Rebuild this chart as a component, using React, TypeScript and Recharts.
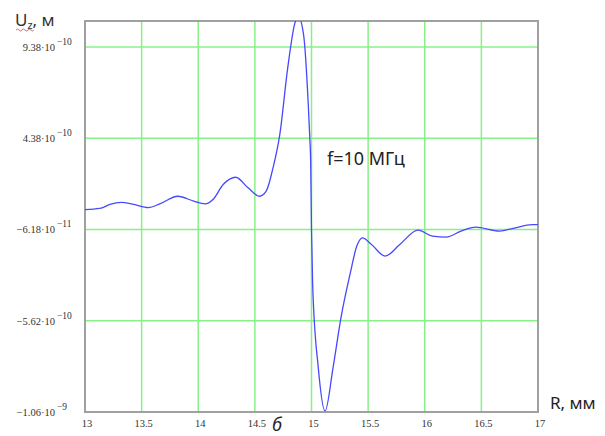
import React from "react";
import { LineChart, Line, XAxis, YAxis, CartesianGrid, ReferenceArea } from "recharts";

// R, mm
const rValues = [
  13.0, 13.13, 13.22, 13.32, 13.43, 13.56, 13.66, 13.82, 13.96, 14.06, 14.13, 14.22, 14.33, 14.44,
  14.54, 14.6, 14.66, 14.72, 14.79, 14.85, 14.88, 14.93, 14.97, 14.985, 14.993, 15.0, 15.01, 15.06,
  15.12, 15.19, 15.26, 15.34, 15.4, 15.45, 15.53, 15.65, 15.78, 15.94, 16.07, 16.19, 16.32, 16.45,
  16.66, 16.78, 16.95, 17.0,
];
// Uz, in units of 1e-10 m
const uzValues = [
  0.47, 0.53, 0.75, 0.86, 0.75, 0.58, 0.78, 1.2, 0.93, 0.78, 1.02, 1.84, 2.24, 1.66,
  1.2, 1.48, 2.75, 4.58, 8.23, 10.6, 11.1, 10.05, 6.4, 4.4, 3.0, -0.62, -3.63, -8.2,
  -10.56, -8.2, -5.46, -3.08, -1.53, -1.08, -1.44, -2.08, -1.44, -0.66, -0.99, -1.04, -0.71, -0.49,
  -0.71, -0.56, -0.35, -0.35,
];

const xTicks = [13, 13.5, 14, 14.5, 15, 15.5, 16, 16.5, 17];
const xTickLabels = ["13", "13.5", "14", "14.5", "15", "15.5", "16", "16.5", "17"];
const yTicks = [-10.62, -5.62, -0.618, 4.38, 9.38];
const yTickMantissa = ["\u22121.06\u00b710", "\u22125.62\u00b710", "\u22126.18\u00b710", "4.38\u00b710", "9.38\u00b710"];
const yTickExponent = ["\u22129", "\u221210", "\u221211", "\u221210", "\u221210"];

const data = rValues.map((r, i) => ({ r, uz: uzValues[i] }));

const serif = "'Liberation Serif', 'Times New Roman', serif";
const sans = "'Noto Sans', 'Open Sans', sans-serif";

const YTick = (props: any) => {
  const { y, payload } = props;
  const idx = yTicks.indexOf(payload.value);
  if (idx < 0) return null;
  return (
    <g>
      <text x={55} y={y + 4} textAnchor="end" fontFamily={serif} fontSize={10.5} fill="#333">
        {yTickMantissa[idx]}
      </text>
      <text x={57} y={y - 2} textAnchor="start" fontFamily={serif} fontSize={9.5} fill="#333">
        {yTickExponent[idx]}
      </text>
    </g>
  );
};

const XTick = (props: any) => {
  const { x, payload } = props;
  const idx = xTicks.indexOf(payload.value);
  if (idx < 0) return null;
  return (
    <text x={x + 2} y={427} textAnchor="middle" fontFamily={serif} fontSize={10.5} fill="#333">
      {xTickLabels[idx]}
    </text>
  );
};

export default function App() {
  return (
    <div style={{ position: "absolute", left: 0, top: 0, width: 605, height: 436, background: "#fff" }}>
      <LineChart
        width={605}
        height={436}
        data={data}
        margin={{ top: 21, right: 67, left: 0, bottom: 0 }}
      >
        <CartesianGrid stroke="#88f088" strokeWidth={1.5} />
        <XAxis
          dataKey="r"
          type="number"
          domain={[13, 17]}
          ticks={xTicks}
          allowDataOverflow
          axisLine={false}
          tickLine={false}
          height={24}
          tick={<XTick />}
          interval={0}
        />
        <YAxis
          type="number"
          domain={[-10.62, 10.8]}
          ticks={yTicks}
          allowDataOverflow
          axisLine={false}
          tickLine={false}
          width={85}
          tick={<YTick />}
          interval={0}
        />
        <ReferenceArea
          x1={13}
          x2={17}
          y1={-10.62}
          y2={10.8}
          fill="none"
          fillOpacity={0}
          stroke="#a0a0a0"
          strokeWidth={2}
          ifOverflow="visible"
        />
        <Line
          type="monotone"
          dataKey="uz"
          stroke="#4848ff"
          strokeWidth={1.3}
          dot={false}
          isAnimationActive={false}
        />
      </LineChart>
      <svg
        width={605}
        height={436}
        style={{ position: "absolute", left: 0, top: 0, pointerEvents: "none" }}
      >
        <text x={15} y={26} fontFamily={sans} fontSize={17} fill="#333">
          <tspan>U</tspan>
          <tspan fontSize={11} dy={3}>z</tspan>
          <tspan dy={-3}>, м</tspan>
        </text>
        <path d="M16 30 q1.5 -2 3 0 t3 0 t3 0 t3 0 t3 0 t3 0" stroke="#e04040" strokeWidth={0.8} fill="none" />
        <text x={327} y={165} fontFamily={sans} fontSize={18} fill="#222">
          f=10 МГц
        </text>
        <text x={550} y={409} fontFamily={sans} fontSize={17} fill="#222">
          R, мм
        </text>
        <text x={272} y={431} fontFamily={sans} fontSize={18} fontStyle="italic" fill="#222">
          б
        </text>
      </svg>
    </div>
  );
}
